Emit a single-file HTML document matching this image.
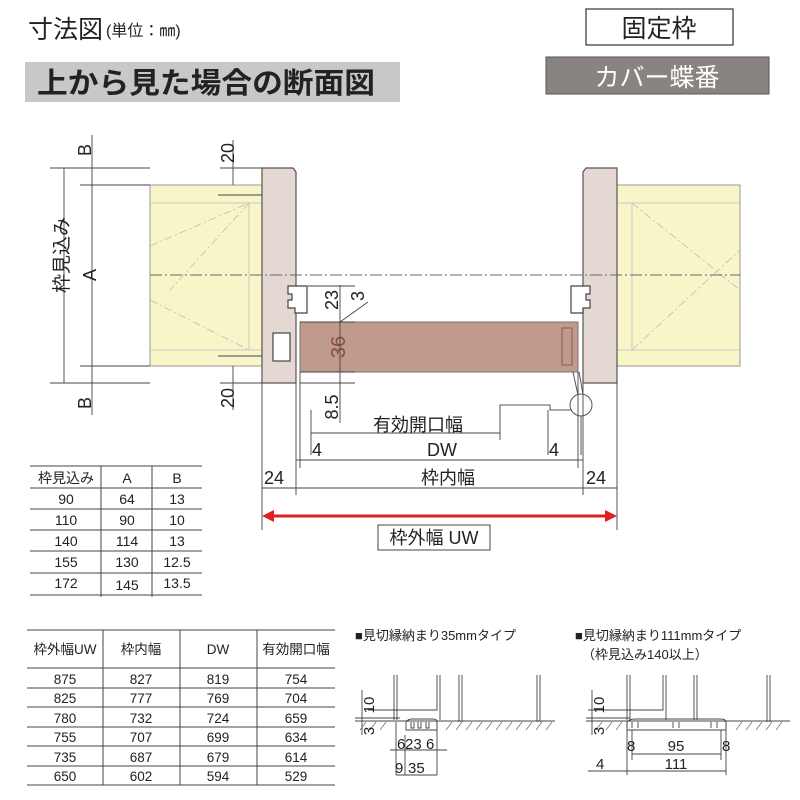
<!DOCTYPE html>
<html><head><meta charset="utf-8"><style>
body{margin:0;background:#fff}
svg{display:block}
text{font-family:"Liberation Sans","Noto Sans CJK JP",sans-serif;fill:#222}
</style></head><body>
<svg width="800" height="800" viewBox="0 0 800 800" xmlns="http://www.w3.org/2000/svg">
<!-- Header -->
<text x="28" y="38" font-size="25">寸法図</text>
<text x="106" y="36" font-size="16">(単位：㎜)</text>
<rect x="25" y="62" width="375" height="40" fill="#c8c8c8"/>
<text x="37" y="93" font-size="29" font-weight="bold" fill="#111" textLength="338" lengthAdjust="spacingAndGlyphs">上から見た場合の断面図</text>
<rect x="586" y="9" width="147" height="36" fill="#fff" stroke="#333" stroke-width="1.2"/>
<text x="659" y="37" font-size="25" text-anchor="middle">固定枠</text>
<rect x="546" y="57" width="223" height="37" fill="#898481" stroke="#555"/>
<text x="657" y="86" font-size="25" text-anchor="middle" style="fill:#fff">カバー蝶番</text>

<!-- walls -->
<g stroke="#999" stroke-width="1" fill="#f8f6c9">
<rect x="150" y="185" width="112" height="181"/>
<rect x="617" y="185" width="123" height="181"/>
</g>
<g stroke="#bbb" fill="none" stroke-width="0.8">
<line x1="150" y1="203" x2="262" y2="203"/><line x1="150" y1="350" x2="262" y2="350"/>
<line x1="249" y1="203" x2="249" y2="350"/>
<line x1="617" y1="203" x2="740" y2="203"/><line x1="617" y1="350" x2="740" y2="350"/>
<line x1="632" y1="203" x2="632" y2="350"/>
<line x1="150" y1="246" x2="249" y2="203" stroke-dasharray="8 3 2 3"/>
<line x1="150" y1="300" x2="249" y2="350" stroke-dasharray="8 3 2 3"/>
<line x1="249" y1="203" x2="170" y2="290" stroke-dasharray="8 3 2 3"/>
<line x1="632" y1="203" x2="740" y2="290" stroke-dasharray="8 3 2 3"/>
<line x1="632" y1="350" x2="740" y2="250" stroke-dasharray="8 3 2 3"/>
</g>
<!-- jambs -->
<g fill="#e5d7d2" stroke="#555" stroke-width="1.2">
<path d="M262 168 H293 L296 172 V383 H262 Z"/>
<path d="M617 168 H586 L583 172 V383 H617 Z"/>
</g>
<!-- center line -->
<line x1="150" y1="275" x2="740" y2="275" stroke="#666" stroke-width="1" stroke-dasharray="12 3 2 3"/>
<!-- stops -->
<g fill="#fff" stroke="#444" stroke-width="1.2">
<path d="M288 286 H307 V313 H295 V308 H288 V300 H292 V294 H288 Z"/>
<path d="M590 286 H571 V313 H583 V308 H590 V300 H586 V294 H590 Z"/>
<rect x="273" y="333" width="17" height="28"/>
</g>
<!-- door -->
<rect x="300" y="322" width="278" height="50" fill="#c09a8c" stroke="#777"/>
<rect x="562" y="328" width="10" height="37" fill="none" stroke="#8a5a4a"/>
<text x="0" y="0" font-size="20" transform="translate(345,347) rotate(-90)" text-anchor="middle" style="fill:#8a5040">36</text>
<!-- hinge -->
<circle cx="581" cy="405" r="11" fill="#fff" stroke="#555"/>
<g stroke="#555" fill="none" stroke-width="1">
<path d="M573 372 L578 395 M579 372 L583 394"/>
<path d="M571 410 H550 V405 H500 V440"/>
<line x1="581" y1="416" x2="581" y2="455"/>
</g>

<!-- dimension lines -->
<g stroke="#444" stroke-width="0.9" fill="none">
<line x1="64" y1="168" x2="64" y2="383"/>
<line x1="92" y1="135" x2="92" y2="415"/>
<line x1="50" y1="168" x2="150" y2="168"/><line x1="50" y1="383" x2="150" y2="383"/>
<line x1="80" y1="185" x2="150" y2="185"/><line x1="80" y1="366" x2="150" y2="366"/>
<line x1="233" y1="140" x2="233" y2="185"/><line x1="233" y1="366" x2="233" y2="410"/>
<line x1="220" y1="168" x2="262" y2="168"/><line x1="220" y1="383" x2="262" y2="383"/>
<line x1="218" y1="195" x2="262" y2="195"/><line x1="218" y1="356" x2="262" y2="356"/>
<line x1="340" y1="285" x2="340" y2="423"/>
<line x1="308" y1="286" x2="355" y2="286"/>
<line x1="300" y1="322" x2="355" y2="322"/>
<line x1="300" y1="372" x2="355" y2="372"/>
<line x1="300" y1="383" x2="355" y2="383"/>
<line x1="340" y1="322" x2="368" y2="302"/>
<line x1="262" y1="383" x2="262" y2="530"/>
<line x1="617" y1="383" x2="617" y2="530"/>
<line x1="296" y1="383" x2="296" y2="495"/>
<line x1="583" y1="383" x2="583" y2="495"/>
<line x1="300" y1="372" x2="300" y2="468"/>
<line x1="578" y1="372" x2="578" y2="468"/>
<line x1="311" y1="410" x2="311" y2="455"/>
<line x1="311" y1="433" x2="500" y2="433"/>
<line x1="548" y1="410" x2="548" y2="455"/>
<line x1="300" y1="460" x2="578" y2="460"/>
<line x1="296" y1="460" x2="300" y2="460"/><line x1="578" y1="460" x2="583" y2="460"/>
<line x1="262" y1="488" x2="617" y2="488"/>
</g>
<g font-size="18">
<text transform="translate(91,150) rotate(-90)" text-anchor="middle">B</text>
<text transform="translate(91,403) rotate(-90)" text-anchor="middle">B</text>
<text transform="translate(96,275) rotate(-90)" text-anchor="middle">A</text>
<text transform="translate(68,255) rotate(-90)" text-anchor="middle" font-size="19">枠見込み</text>
<text transform="translate(234,153) rotate(-90)" text-anchor="middle">20</text>
<text transform="translate(234,398) rotate(-90)" text-anchor="middle">20</text>
<text transform="translate(338,300) rotate(-90)" text-anchor="middle">23</text>
<text transform="translate(338,407) rotate(-90)" text-anchor="middle">8.5</text>
<text transform="translate(364,296) rotate(-90)" text-anchor="middle">3</text>
<text x="418" y="431" text-anchor="middle">有効開口幅</text>
<text x="312" y="456">4</text>
<text x="442" y="456" text-anchor="middle">DW</text>
<text x="549" y="456">4</text>
<text x="264" y="484">24</text>
<text x="448" y="484" text-anchor="middle">枠内幅</text>
<text x="586" y="484">24</text>
</g>
<!-- red arrow -->
<line x1="272" y1="516" x2="607" y2="516" stroke="#e02020" stroke-width="3"/>
<path d="M262 516 L274 510 L274 522 Z M617 516 L605 510 L605 522 Z" fill="#e02020"/>
<rect x="378" y="525" width="112" height="25" fill="#fff" stroke="#444"/>
<text x="434" y="544" font-size="18" text-anchor="middle">枠外幅 UW</text>

<!-- table 1 -->
<g stroke="#444" stroke-width="1">
<line x1="30" y1="466" x2="202" y2="466"/>
<line x1="30" y1="488" x2="202" y2="488"/>
<line x1="30" y1="509" x2="202" y2="509"/>
<line x1="30" y1="530" x2="202" y2="530"/>
<line x1="30" y1="551" x2="202" y2="551"/>
<line x1="30" y1="573" x2="202" y2="573"/>
<line x1="30" y1="595" x2="202" y2="595"/>
<line x1="101" y1="466" x2="101" y2="597"/>
<line x1="152" y1="466" x2="152" y2="597"/>
</g>
<g font-size="14" text-anchor="middle">
<text x="66" y="483">枠見込み</text><text x="127" y="483">A</text><text x="177" y="483">B</text>
<text x="66" y="504">90</text><text x="127" y="504">64</text><text x="177" y="504">13</text>
<text x="66" y="525">110</text><text x="127" y="525">90</text><text x="177" y="525">10</text>
<text x="66" y="546">140</text><text x="127" y="546">114</text><text x="177" y="546">13</text>
<text x="66" y="567">155</text><text x="127" y="567">130</text><text x="177" y="567">12.5</text>
<text x="66" y="588">172</text><text x="127" y="590">145</text><text x="177" y="588">13.5</text>
</g>

<!-- table 2 -->
<g stroke="#444" stroke-width="1">
<line x1="27" y1="630" x2="335" y2="630"/>
<line x1="27" y1="668" x2="335" y2="668"/>
<line x1="27" y1="688" x2="335" y2="688"/>
<line x1="27" y1="707" x2="335" y2="707"/>
<line x1="27" y1="727" x2="335" y2="727"/>
<line x1="27" y1="746" x2="335" y2="746"/>
<line x1="27" y1="766" x2="335" y2="766"/>
<line x1="27" y1="785" x2="335" y2="785"/>
<line x1="103" y1="630" x2="103" y2="785"/>
<line x1="180" y1="630" x2="180" y2="785"/>
<line x1="257" y1="630" x2="257" y2="785"/>
</g>
<g font-size="13.5" text-anchor="middle">
<text x="65" y="654">枠外幅UW</text><text x="141" y="654">枠内幅</text><text x="218" y="654">DW</text><text x="296" y="654">有効開口幅</text>
<text x="65" y="684">875</text><text x="141" y="684">827</text><text x="218" y="684">819</text><text x="296" y="684">754</text>
<text x="65" y="703">825</text><text x="141" y="703">777</text><text x="218" y="703">769</text><text x="296" y="703">704</text>
<text x="65" y="723">780</text><text x="141" y="723">732</text><text x="218" y="723">724</text><text x="296" y="723">659</text>
<text x="65" y="742">755</text><text x="141" y="742">707</text><text x="218" y="742">699</text><text x="296" y="742">634</text>
<text x="65" y="762">735</text><text x="141" y="762">687</text><text x="218" y="762">679</text><text x="296" y="762">614</text>
<text x="65" y="781">650</text><text x="141" y="781">602</text><text x="218" y="781">594</text><text x="296" y="781">529</text>
</g>

<!-- small details -->
<g font-size="13">
<text x="355" y="640">■見切縁納まり35mmタイプ</text>
<text x="575" y="640">■見切縁納まり111mmタイプ</text>
<text x="582" y="659">（枠見込み140以上）</text>
</g>
<g stroke="#444" stroke-width="0.9" fill="none">
<path d="M394 675 V720 M397 675 V720 M437 675 V710 H368 M440 675 V720 M459 675 V722 M462 675 V722 M537 675 V722 M540 675 V722"/>
<line x1="355" y1="721" x2="555" y2="721"/>
<line x1="355" y1="718" x2="400" y2="718"/>
<line x1="362" y1="690" x2="362" y2="735"/>
<path d="M406 730 V722 Q408 719 412 719 H433 Q437 719 437 722 V730 Z"/>
<path d="M411 722 V728 H414 V722 M418 722 V728 H421 V722 M426 722 V728 H429 V722"/>
<line x1="396" y1="722" x2="396" y2="775"/>
<line x1="405" y1="735" x2="405" y2="775"/>
<line x1="437" y1="722" x2="437" y2="775"/>
<line x1="390" y1="750" x2="447" y2="750"/>
<line x1="396" y1="775" x2="437" y2="775"/>
<path d="M627 675 V720 M630 675 V720 M663 675 V710 H588 M666 675 V720 M694 675 V720 M697 675 V720 M767 675 V722 M770 675 V722"/>
<line x1="586" y1="721" x2="790" y2="721"/>
<line x1="586" y1="718" x2="630" y2="718"/>
<line x1="592" y1="690" x2="592" y2="735"/>
<path d="M627 730 V722 Q630 719 635 719 H720 Q726 719 726 722 V730 Z"/>
<path d="M632 722 V728 M638 722 V728 M673 722 V728 M679 722 V728 M711 722 V728 M717 722 V728"/>
<line x1="627" y1="722" x2="627" y2="775"/>
<line x1="632" y1="730" x2="632" y2="760"/>
<line x1="721" y1="730" x2="721" y2="760"/>
<line x1="726" y1="722" x2="726" y2="775"/>
<line x1="632" y1="754" x2="721" y2="754"/>
<line x1="588" y1="771" x2="726" y2="771"/>
</g>
<g stroke="#666" stroke-width="0.7">
<path d="M360 730 L366 722 M370 730 L376 722 M380 730 L386 722 M446 730 L452 722 M456 730 L462 722 M466 730 L472 722 M476 730 L482 722 M486 730 L492 722 M496 730 L502 722 M506 730 L512 722 M516 730 L522 722 M526 730 L532 722 M536 730 L542 722 M546 730 L552 722"/>
<path d="M596 730 L602 722 M606 730 L612 722 M616 730 L622 722 M736 730 L742 722 M746 730 L752 722 M756 730 L762 722 M766 730 L772 722 M776 730 L782 722"/>
</g>
<g font-size="15">
<text transform="translate(374,705) rotate(-90)" text-anchor="middle">10</text>
<text transform="translate(374,731) rotate(-90)" text-anchor="middle">3</text>
<text x="397" y="749">6</text><text x="405" y="749">23</text><text x="426" y="749">6</text>
<text x="395" y="773">9</text><text x="408" y="773">35</text>
<text transform="translate(604,705) rotate(-90)" text-anchor="middle">10</text>
<text transform="translate(604,731) rotate(-90)" text-anchor="middle">3</text>
<text x="627" y="751">8</text><text x="676" y="751" text-anchor="middle">95</text><text x="722" y="751">8</text>
<text x="596" y="769">4</text><text x="676" y="769" text-anchor="middle">111</text>
</g>
</svg>
</body></html>
